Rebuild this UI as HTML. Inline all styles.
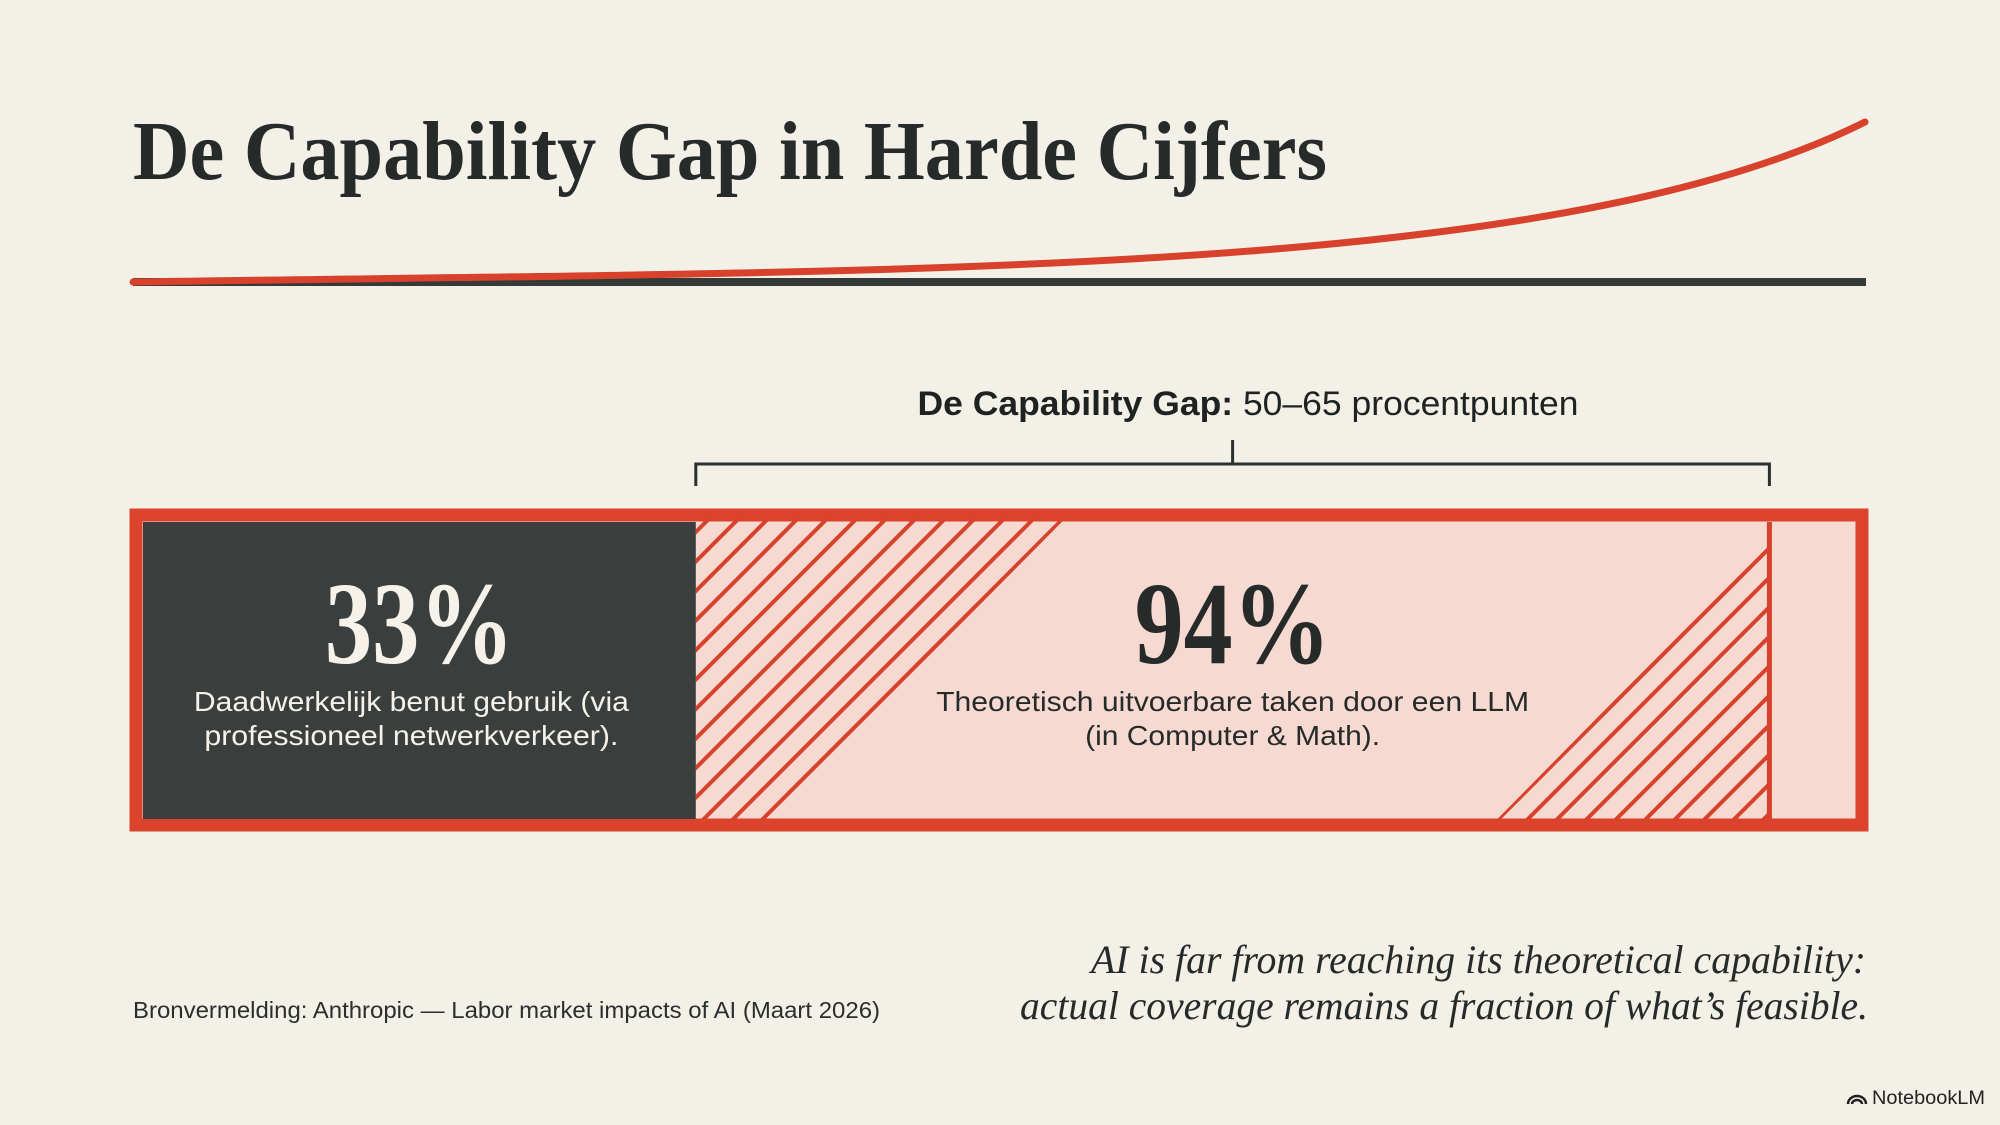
<!DOCTYPE html>
<html><head><meta charset="utf-8"><style>
html,body{margin:0;padding:0;background:#f3f0e7;}
svg{display:block;}
</style></head><body>
<svg id="chart" width="2000" height="1125" viewBox="0 0 2000 1125" xmlns="http://www.w3.org/2000/svg">
<defs>
<clipPath id="clipL"><polygon id="clipLpoly" points="0,0 0,0"/></clipPath>
<clipPath id="clipR"><polygon id="clipRpoly" points="0,0 0,0"/></clipPath>
</defs>
<rect x="0" y="0" width="2000" height="1125" fill="#f3f0e7"/>
<text x="133" y="179" font-family="Liberation Serif, serif" font-weight="bold" font-size="84" fill="#262a29" textLength="1194" lengthAdjust="spacingAndGlyphs">De Capability Gap in Harde Cijfers</text>
<rect x="133" y="278" width="1733" height="8" fill="#353a39"/>
<path d="M133,282 C900,270 1550,280 1865,122" fill="none" stroke="#d8412b" stroke-width="7" stroke-linecap="round"/>
<text x="1248" y="415" text-anchor="middle" font-family="Liberation Sans, sans-serif" font-size="34" fill="#1e2221" textLength="661" lengthAdjust="spacingAndGlyphs"><tspan font-weight="bold">De Capability Gap:</tspan> 50–65 procentpunten</text>
<g id="bars"></g>
<text x="133" y="1018" font-family="Liberation Sans, sans-serif" font-size="23" fill="#2a2e2d" textLength="747" lengthAdjust="spacingAndGlyphs">Bronvermelding: Anthropic — Labor market impacts of AI (Maart 2026)</text>
<text x="1866" y="973" text-anchor="end" font-family="Liberation Serif, serif" font-style="italic" font-size="40" fill="#262a29" textLength="775" lengthAdjust="spacingAndGlyphs">AI is far from reaching its theoretical capability:</text>
<text x="1868" y="1019" text-anchor="end" font-family="Liberation Serif, serif" font-style="italic" font-size="40" fill="#262a29" textLength="848" lengthAdjust="spacingAndGlyphs">actual coverage remains a fraction of what’s feasible.</text>
<g>
<path d="M1848,1104 a9,8 0 0 1 18,0 M1852,1104 a5,4 0 0 1 10,0" fill="none" stroke="#222" stroke-width="2.5"/>
<text x="1872" y="1104" font-family="Liberation Sans, sans-serif" font-size="19" fill="#222" textLength="113" lengthAdjust="spacingAndGlyphs">NotebookLM</text>
</g>
</svg>
<script>
const categories = ["Daadwerkelijk benut", "Theoretisch uitvoerbaar"];
const values = [33, 94];
const valueLabels = ["33%", "94%"];
const descLine1 = ["Daadwerkelijk benut gebruik (via", "Theoretisch uitvoerbare taken door een LLM"];
const descLine2 = ["professioneel netwerkverkeer).", "(in Computer & Math)."];

const NS = "http://www.w3.org/2000/svg";
function x(v){ return 115 + v * 17.6; }
const yTop = 522, yBottom = 819;
const H = yBottom - yTop;
const g = document.getElementById('bars');
function mk(tag, attrs, parent){ const e = document.createElementNS(NS, tag); for (const k in attrs) e.setAttribute(k, attrs[k]); (parent||g).appendChild(e); return e; }

let frame = mk('rect', {x:136, y:515, width:1726, height:310, fill:'#f6d9d1', stroke:'#dc432c', 'stroke-width':13});



const x0 = 143, xa = x(values[0]), xb = x(values[1]);
const step = 29.5;
const lEdge = xa + 67, rEdge = xb - 271;
document.getElementById('clipLpoly').setAttribute('points', `${xa},${yTop-5} ${lEdge+H+7},${yTop-5} ${lEdge+3},${yBottom+2} ${xa},${yBottom+2}`);
document.getElementById('clipRpoly').setAttribute('points', `${xb},${yBottom-271-5} ${xb},${yBottom+2} ${rEdge-3},${yBottom+2}`);
const hl = mk('g', {'clip-path':'url(#clipL)'});


for (let s = lEdge; s > xa - H - 10; s -= step){
  mk('line', {x1:s-5, y1:yBottom+5, x2:s+H+5, y2:yTop-5, stroke:'#d8412b', 'stroke-width':4}, hl);
}
const hr = mk('g', {'clip-path':'url(#clipR)'});


for (let s = rEdge; s < xb + 10; s += step){
  mk('line', {x1:s-5, y1:yBottom+5, x2:s+H+5, y2:yTop-5, stroke:'#d8412b', 'stroke-width':4}, hr);
}
const dark = mk('rect', {x:x0, y:yTop, width:xa-x0, height:H, fill:'#3a3f3e'});


const vl = mk('rect', {x:xb-2.5, y:yTop, width:5, height:H, fill:'#d8412b'});



const centers = [(x0+xa)/2, (xa+xb)/2];
const colors = ['#f6f2ea', '#262a29'];
const bigW = [189, 196], w1 = [435, 593], w2 = [414, 295];
const dx = [-8, 0];
for (let i = 0; i < values.length; i++){
  const t = mk('text', {x:centers[i], y:663, 'text-anchor':'middle', 'font-family':'Liberation Serif, serif', 'font-weight':'bold', 'font-size':118, fill:colors[i], textLength:bigW[i], lengthAdjust:'spacingAndGlyphs'});
  t.textContent = valueLabels[i];
  
  
  const d1 = mk('text', {x:centers[i]+dx[i], y:711, 'text-anchor':'middle', 'font-family':'Liberation Sans, sans-serif', 'font-size':28, fill:colors[i], textLength:w1[i], lengthAdjust:'spacingAndGlyphs'});
  d1.textContent = descLine1[i];
  
  
  const d2 = mk('text', {x:centers[i]+dx[i], y:745, 'text-anchor':'middle', 'font-family':'Liberation Sans, sans-serif', 'font-size':28, fill:colors[i], textLength:w2[i], lengthAdjust:'spacingAndGlyphs'});
  d2.textContent = descLine2[i];
  
  
}
const mid = (xa+xb)/2;
const br = mk('path', {d:`M${xa},486 L${xa},464 L${xb},464 L${xb},486 M${mid},464 L${mid},440`, fill:'none', stroke:'#2b2f2e', 'stroke-width':3});


</script>
</body></html>
